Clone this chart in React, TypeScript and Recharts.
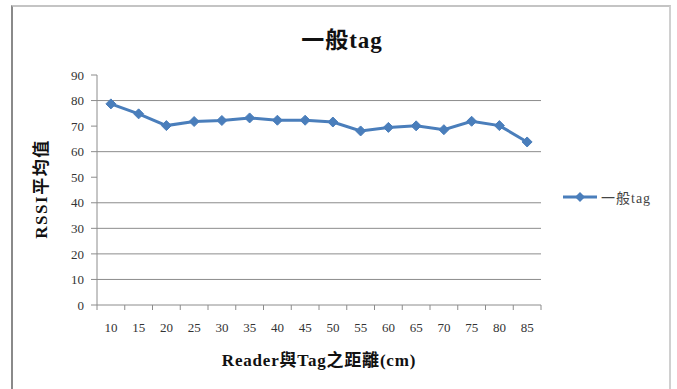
import { CartesianGrid, Label, Legend, Line, LineChart, XAxis, YAxis } from 'recharts';

const distances = ['10', '15', '20', '25', '30', '35', '40', '45', '50', '55', '60', '65', '70', '75', '80', '85'];
const rssiAvg = [78.7, 74.8, 70.2, 71.8, 72.2, 73.2, 72.3, 72.3, 71.6, 68.1, 69.5, 70.1, 68.6, 71.9, 70.2, 63.8];
const yTicks = [0, 10, 20, 30, 40, 50, 60, 70, 80, 90];
const gridValues = [10, 20, 30, 40, 60, 80];

const SERIES_NAME = '一般tag';
const BLUE = '#4a7ebb';
const FONT = "'Liberation Serif', 'Noto Sans CJK TC', serif";

const W = 677;
const H = 389;
const PLOT_LEFT = 97;
const PLOT_RIGHT = 541;
const BAND = (PLOT_RIGHT - PLOT_LEFT) / distances.length;

const data = distances.map((d, i) => ({ distance: d, value: rssiAvg[i] }));

const Diamond = (props: any) => {
  const { cx, cy, index } = props;
  if (cx == null || cy == null) return null;
  const r = 5;
  return (
    <path
      key={`dot-${index}`}
      d={`M${cx},${cy - r} L${cx + r},${cy} L${cx},${cy + r} L${cx - r},${cy} Z`}
      fill={BLUE}
      stroke={BLUE}
      strokeWidth={1}
    />
  );
};

// category labels centred in each band, tick marks on band edges
const XTick = (props: any) => {
  const { x, y, payload, index } = props;
  const left = x - BAND / 2;
  return (
    <g>
      <line x1={left} y1={y} x2={left} y2={y + 5} stroke="#8c8c8c" />
      {index === distances.length - 1 && (
        <line x1={x + BAND / 2} y1={y} x2={x + BAND / 2} y2={y + 5} stroke="#8c8c8c" />
      )}
      <text x={x} y={y + 27} textAnchor="middle" fontSize={13} fill="#333" fontFamily={FONT}>
        {payload.value}
      </text>
    </g>
  );
};

const LegendBox = () => (
  <div style={{ display: 'flex', alignItems: 'center', fontFamily: FONT, fontSize: 14, color: '#444', letterSpacing: 1 }}>
    <svg width={36} height={12}>
      <line x1={0} y1={6} x2={34} y2={6} stroke={BLUE} strokeWidth={3} />
      <path d="M17,1 L22,6 L17,11 L12,6 Z" fill={BLUE} />
    </svg>
    <span style={{ marginLeft: 2 }}>{SERIES_NAME}</span>
  </div>
);

export default function App() {
  return (
    <div style={{ position: 'relative', width: W, height: H, overflow: 'hidden', background: '#fff' }}>
      <style>{'body{margin:0}'}</style>
      <div
        style={{
          position: 'absolute',
          left: 11,
          top: 5,
          width: 656,
          height: 400,
          borderLeft: '2px solid #8a8a8a',
          borderTop: '2px solid #c4c4c4',
          borderRight: '2px solid #d0d0d0',
        }}
      />
      <div
        style={{
          position: 'absolute',
          left: 0,
          width: 684,
          top: 21,
          textAlign: 'center',
          fontFamily: FONT,
          fontWeight: 'bold',
          fontSize: 23,
          letterSpacing: 1,
          color: '#111',
        }}
      >
        {SERIES_NAME}
      </div>
      <div style={{ position: 'absolute', left: 0, top: 0 }}>
        <LineChart
          width={W}
          height={H}
          data={data}
          margin={{ top: 75, right: W - PLOT_RIGHT, bottom: 0, left: 0 }}
        >
          <CartesianGrid
            vertical={false}
            stroke="#8c8c8c"
            horizontalValues={gridValues}
          />
          <XAxis
            dataKey="distance"
            height={84}
            stroke="#8c8c8c"
            padding={{ left: BAND / 2, right: BAND / 2 }}
            tickLine={false}
            tickSize={0}
            tickMargin={0}
            interval={0}
            tick={<XTick />}
          >
            <Label
              content={({ viewBox }: any) => (
                <text
                  x={viewBox.x + viewBox.width / 2}
                  y={viewBox.y + 61}
                  textAnchor="middle"
                  fontFamily={FONT}
                  fontWeight="bold"
                  fontSize={17}
                  letterSpacing={0.8}
                  fill="#111"
                >
                  Reader與Tag之距離(cm)
                </text>
              )}
            />
          </XAxis>
          <YAxis
            width={PLOT_LEFT}
            domain={[0, 90]}
            ticks={yTicks}
            interval={0}
            stroke="#8c8c8c"
            tickSize={6}
            tickMargin={7}
            tick={{ fontSize: 13, fill: '#333', fontFamily: FONT }}
          >
            <Label
              content={({ viewBox }: any) => {
                const cx = viewBox.x + 41;
                const cy = viewBox.y + viewBox.height / 2 - 1;
                return (
                  <text
                    x={cx}
                    y={cy}
                    transform={`rotate(-90 ${cx} ${cy})`}
                    textAnchor="middle"
                    dominantBaseline="central"
                    fontFamily={FONT}
                    fontWeight="bold"
                    fontSize={17}
                    letterSpacing={1.5}
                    fill="#111"
                  >
                    RSSI平均值
                  </text>
                );
              }}
            />
          </YAxis>
          <Legend
            layout="vertical"
            align="center"
            verticalAlign="middle"
            content={<LegendBox />}
            wrapperStyle={{ left: 563, top: 187, width: 110 }}
          />
          <Line
            type="linear"
            dataKey="value"
            name={SERIES_NAME}
            stroke={BLUE}
            strokeWidth={3}
            dot={<Diamond />}
            activeDot={false}
            isAnimationActive={false}
          />
        </LineChart>
      </div>
    </div>
  );
}
